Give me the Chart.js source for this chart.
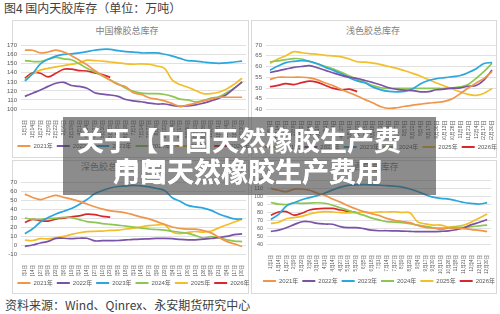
<!DOCTYPE html>
<html>
<head>
<meta charset="utf-8">
<script src="https://cdn.jsdelivr.net/npm/chart.js@4.4.1/dist/chart.umd.min.js"></script>
<style>
  html, body { margin: 0; padding: 0; background: #fff; }
  body { position: relative; width: 500px; height: 314px; overflow: hidden;
         font-family: "Liberation Sans", "Noto Sans CJK SC", sans-serif; }
  .abs { position: absolute; }
  .panel { position: absolute; border: 1px solid #d9d9d9; box-sizing: border-box; }
  .ttl { position: absolute; font-size: 9px; line-height: 10px; color: #7f7f7f;
         transform: translateX(-50%); white-space: nowrap; font-family: "Noto Sans CJK SC", sans-serif; }
  canvas { position: absolute; }
  #hdr { left: 4px; top: 1px; font-size: 12px; line-height: 14px; color: #404040; font-family: "Noto Sans CJK SC", sans-serif; }
  #src { left: 5px; top: 297px; font-size: 12px; line-height: 15px; color: #404040; font-family: "Noto Sans CJK SC", sans-serif; }
  #banner { left: 63px; top: 117px; width: 373px; height: 78px; background: rgba(70, 70, 70, 0.62); z-index: 5; }
  #banner div { position: absolute; color: #fff; font-weight: bold; font-size: 27px; line-height: 27px;
                white-space: nowrap; font-family: "Noto Sans CJK SC", sans-serif; }
</style>
</head>
<body>
<div id="hdr" class="abs">图4 国内天胶库存（单位：万吨）</div>

<div class="panel" style="left:12px;top:20px;width:237px;height:138px"></div>
<div class="panel" style="left:251px;top:20px;width:246px;height:138px"></div>
<div class="panel" style="left:12px;top:160px;width:237px;height:134px"></div>
<div class="panel" style="left:251px;top:160px;width:246px;height:134px"></div>

<div class="ttl" style="left:127px;top:26px">中国橡胶总库存</div>
<div class="ttl" style="left:373px;top:26px">浅色胶总库存</div>
<div class="ttl" style="left:108px;top:162px">深色胶总库存</div>
<div class="ttl" style="left:376px;top:162px">青岛总库存</div>

<canvas id="c1"></canvas>
<canvas id="c2"></canvas>
<canvas id="c3"></canvas>
<canvas id="c4"></canvas>

<div id="banner" class="abs">
  <div style="left:14px;top:9px">关于【中国天然橡胶生产费</div>
  <div style="left:50px;top:40px">用与天然橡胶生产费用</div>
  <div style="left:50px;top:40px">中国天然橡胶生产费用</div>
</div>

<div id="src" class="abs">资料来源：Wind、Qinrex、永安期货研究中心</div>

<script>
// x categories (every 13 days)
var dates = ['1月1日', '1月14日', '1月27日', '2月9日', '2月22日', '3月6日', '3月19日', '4月1日', '4月14日', '4月27日',
    '5月10日', '5月23日', '6月5日', '6月18日', '7月1日', '7月14日', '7月27日', '8月9日', '8月22日', '9月4日',
    '9月17日', '9月30日', '10月13日', '10月26日', '11月8日', '11月21日', '12月4日', '12月17日', '12月30日'];
var years = ['2021年', '2022年', '2023年', '2024年', '2025年', '2026年'];
var colors = ['#f0954a', '#7a52a6', '#2ba6de', '#8cc751', '#f2bf2a', '#d9272e'];

// 中国橡胶总库存
var total21 = [165, 165, 162, 163, 165, 163, 159, 154, 149, 142.5, 137, 132, 127, 124.5, 118, 116, 112.5, 111, 109, 106, 103, 104.5, 106.5, 109, 111, 113, 113, 113, 113];
var total22 = [114, 117.5, 121, 125, 128.5, 129.5, 126, 125, 123, 118, 116.5, 115.5, 114, 110.5, 109, 108, 106.5, 105.5, 105.5, 104, 103, 103.5, 104.5, 106.5, 109, 112, 116, 123, 130];
var total23 = [131, 139, 150, 155, 158.5, 160.5, 161, 162, 163.5, 165, 166, 166, 164.5, 163.5, 163, 162, 162, 162, 160.5, 158.5, 156, 153.5, 153, 152, 151, 150.5, 151, 152, 153];
var total24 = [153.5, 152.5, 152.5, 155, 157, 155.5, 154.5, 150, 145, 141, 136.5, 132, 128, 123, 119.5, 117.5, 117, 117, 116, 114, 111, 110, 108, 109.5, 112, 113.5, 118, 123, 130];
var total25 = [132, 139, 143, 145, 146.5, 148, 149.5, 151, 154, 153.5, 153, 152, 151, 150, 149.5, 150, 149.5, 147.5, 145, 132, 127, 124, 120.5, 117, 117, 118.5, 122, 127.5, 134];
var total26 = [134, 140, 139.5, 135.5, 139.5, 144, 144, 142.5, 142, 140, 138, 135];

// 浅色胶总库存
var light21 = [54, 55, 55, 55, 55, 54.7, 53.8, 52.3, 51, 49.3, 47.8, 46.3, 44.6, 43, 41.3, 40.5, 40.8, 41.5, 42, 42.5, 43, 43.3, 43.8, 45, 47.4, 50, 52.3, 54.5, 57.6];
var light22 = [57.2, 58, 58.8, 59.6, 60, 60.4, 59.4, 58.2, 57, 55.9, 55, 54.4, 53.5, 52.5, 51.4, 50.1, 49.4, 49, 48.8, 48.2, 48.3, 49.2, 49.5, 49.9, 50.1, 50.8, 51.2, 53.8, 58.3];
var light23 = [58.3, 60.2, 61.8, 62.4, 62.7, 62.4, 61.3, 59.6, 58.2, 56.6, 54.8, 53.3, 52.3, 50.4, 49.1, 48.4, 48.2, 48.4, 49.6, 52, 53.5, 54.4, 54.8, 55.3, 55.8, 57.2, 59, 61.4, 61.8];
var light24 = [62.2, 62.6, 63.2, 63.7, 63.5, 62.3, 61.2, 60, 58.8, 57.3, 55.6, 54, 52.6, 51.1, 50.1, 49.8, 49.8, 49.8, 49.8, 49.8, 49.8, 49.8, 49.8, 50.1, 50.5, 51.6, 54.5, 57.7, 61.5];
var light25 = [61.5, 63.5, 65, 66.9, 66.4, 66, 65.7, 65.2, 64.9, 64.5, 63.5, 62.2, 62, 61.6, 60.9, 60, 59.1, 58, 56.8, 55.5, 53.9, 52.3, 50.9, 49.5, 48.2, 47, 46.6, 47.6, 49.8];
var light26 = [50.6, 51.2, 52, 51.6, 52.5, 53.2, 52.6, 51.2, 49.8, 49.1, 49.5, 48.3];

// 深色胶总库存
var dark21 = [56.5, 52.8, 50.5, 53, 55.2, 53, 51, 48.5, 45.5, 42.5, 40, 38, 37, 35.7, 33.5, 31, 29, 26, 23, 20, 18.3, 17.6, 17.6, 16, 13.5, 8.5, 4, 1.2, -1.7];
var dark22 = [-1.5, 0, 2.2, 4, 7.3, 7.5, 7, 7.5, 7.5, 4.6, 4.8, 4.9, 5, 5.6, 6.2, 6.6, 6.9, 7.3, 7.3, 7, 6.2, 5.7, 5.7, 6.5, 7.2, 8.4, 9.5, 11.5, 12.4];
var dark23 = [12.5, 18, 25.5, 30.5, 34.5, 37.5, 40.5, 45, 50.5, 57, 60.5, 63.3, 65, 65.5, 66.3, 65.6, 64.5, 62.8, 60.5, 52.5, 48.5, 44, 42.3, 41, 38.5, 34.5, 31.5, 29, 29];
var dark24 = [30, 28.5, 28.5, 29.3, 29.9, 30.8, 30.5, 28.2, 26, 25.2, 23.8, 23, 22, 21, 19.8, 18.8, 17.8, 17.2, 16.5, 15.3, 14.2, 13, 10.5, 7.8, 9.2, 7.8, 5.8, 4.3, 3.8];
var dark25 = [5.5, 5, 7, 6.8, 8, 9.5, 11.8, 13.6, 14.8, 15.2, 15.5, 16.2, 16.5, 17.8, 18.7, 20.2, 21.5, 22.2, 22.4, 14.5, 12.5, 14, 15, 14.2, 15.5, 19, 22.3, 25.5, 28.7];
var dark26 = [25, 28.5, 27, 26.5, 28.8, 29.9, 31.4, 32.4, 34.2, 33.7, 31.9, 31];

// 青岛总库存
var qd21 = [110.4, 108, 106.3, 109.4, 109.6, 108, 104.5, 101.5, 97, 93, 88.5, 84.5, 81, 78.5, 76, 72.5, 70, 68.5, 67, 63.5, 61, 60.3, 60, 60.4, 60.2, 59.5, 58.3, 57.3, 55.6];
var qd22 = [56, 57.5, 60.5, 64.5, 68.2, 68.2, 66, 65.3, 65, 62, 60.7, 60.8, 59.5, 57.5, 56.8, 56.8, 56.6, 56.4, 56, 55.6, 55.6, 55.6, 56, 56.6, 58, 60.5, 64.5, 67.5, 71];
var qd23 = [71, 77.5, 88, 92.3, 96, 98.7, 101.2, 104.5, 108.5, 112, 114.3, 114.8, 115.1, 114.9, 114.5, 114, 113.1, 112, 109.6, 106.5, 102.5, 99.3, 97.8, 96.7, 94.8, 92.5, 91.3, 90.6, 92.3];
var qd24 = [92.5, 90.5, 90, 92, 91.5, 91.8, 92.2, 91.6, 89, 85.8, 82.5, 79.5, 76.5, 73, 70.5, 68.2, 67.8, 67, 65.7, 63.8, 62.2, 60.5, 58.5, 60.5, 61, 61, 62, 63, 64];
var qd25 = [66, 67.5, 72, 73.5, 75, 78, 80, 81, 80.5, 79.8, 79.5, 80, 80.5, 79.8, 80.5, 80.5, 80.8, 80, 79.5, 68, 65.5, 64, 64, 61.5, 62.5, 64, 68, 73, 78];
var qd26 = [76.5, 80.5, 81, 76.5, 79, 83, 84.5, 85, 85, 83, 81.5, 80];

var tickColor = '#595959';
var gridColor = '#d9d9d9';
var fontFamily = '"Liberation Sans", "Noto Sans CJK SC", sans-serif';

// Build one panel chart; box holds the canvas placement and axis sizes
var makeChart = function makeChart(id, series, yMin, yMax, step, box) {
    var canvas = document.getElementById(id);
    canvas.width = box.width;
    canvas.height = box.height;
    canvas.style.left = box.left + 'px';
    canvas.style.top = box.top + 'px';

    var datasets = series.map(function (values, i) {
        return {
            label: years[i],
            data: values,
            borderColor: colors[i],
            backgroundColor: colors[i],
            borderWidth: 1.7,
            pointRadius: 0,
            tension: 0.35,
            fill: false
        };
    });

    return new Chart(canvas.getContext('2d'), {
        type: 'line',
        data: { labels: dates, datasets: datasets },
        options: {
            responsive: false,
            animation: false,
            events: [],
            layout: { padding: { top: box.padTop, left: 0, right: 0, bottom: 0 } },
            plugins: {
                title: { display: false },
                tooltip: { enabled: false },
                legend: {
                    position: 'bottom',
                    labels: {
                        boxWidth: 13,
                        boxHeight: 2,
                        padding: 4,
                        color: tickColor,
                        font: { size: 6, family: fontFamily },
                        generateLabels: function (chart) {
                            return Chart.defaults.plugins.legend.labels.generateLabels(chart).map(function (item) {
                                item.lineWidth = 0;
                                return item;
                            });
                        }
                    }
                }
            },
            scales: {
                x: {
                    offset: true,
                    grid: { display: false },
                    border: { display: false },
                    ticks: {
                        autoSkip: false,
                        minRotation: 90,
                        maxRotation: 90,
                        padding: 3,
                        color: tickColor,
                        font: { size: box.xFont, family: fontFamily }
                    },
                    afterFit: function (scale) { scale.height = box.xAxisH; }
                },
                y: {
                    min: yMin,
                    max: yMax,
                    ticks: {
                        autoSkip: false,
                        stepSize: step,
                        padding: 4,
                        color: tickColor,
                        font: { size: box.yFont, family: fontFamily }
                    },
                    grid: { color: gridColor, lineWidth: 0.8, drawTicks: false },
                    border: { display: false },
                    afterFit: function (scale) { scale.width = box.side; }
                },
                // empty right axis, keeps the plot centred under the legend
                y2: {
                    position: 'right',
                    grid: { display: false },
                    border: { display: false },
                    ticks: { display: false },
                    afterFit: function (scale) { scale.width = box.side; }
                }
            }
        }
    });
};

makeChart('c1', [total21, total22, total23, total24, total25, total26], 100, 170, 10,
    { left: 7, top: 30, width: 253, height: 129, side: 14, padTop: 15.7, xAxisH: 30, xFont: 5, yFont: 6 });
makeChart('c2', [light21, light22, light23, light24, light25, light26], 40, 70, 5,
    { left: 254, top: 30, width: 254, height: 130, side: 12, padTop: 15, xAxisH: 30.5, xFont: 5, yFont: 6 });
makeChart('c3', [dark21, dark22, dark23, dark24, dark25, dark26], -10, 70, 10,
    { left: 7, top: 170, width: 253, height: 126, side: 14, padTop: 12, xAxisH: 22, xFont: 4.5, yFont: 6 });
makeChart('c4', [qd21, qd22, qd23, qd24, qd25, qd26], 40, 120, 10,
    { left: 255, top: 170, width: 248, height: 124, side: 12, padTop: 10.8, xAxisH: 30, xFont: 4.5, yFont: 5.5 });
</script>
</body>
</html>
